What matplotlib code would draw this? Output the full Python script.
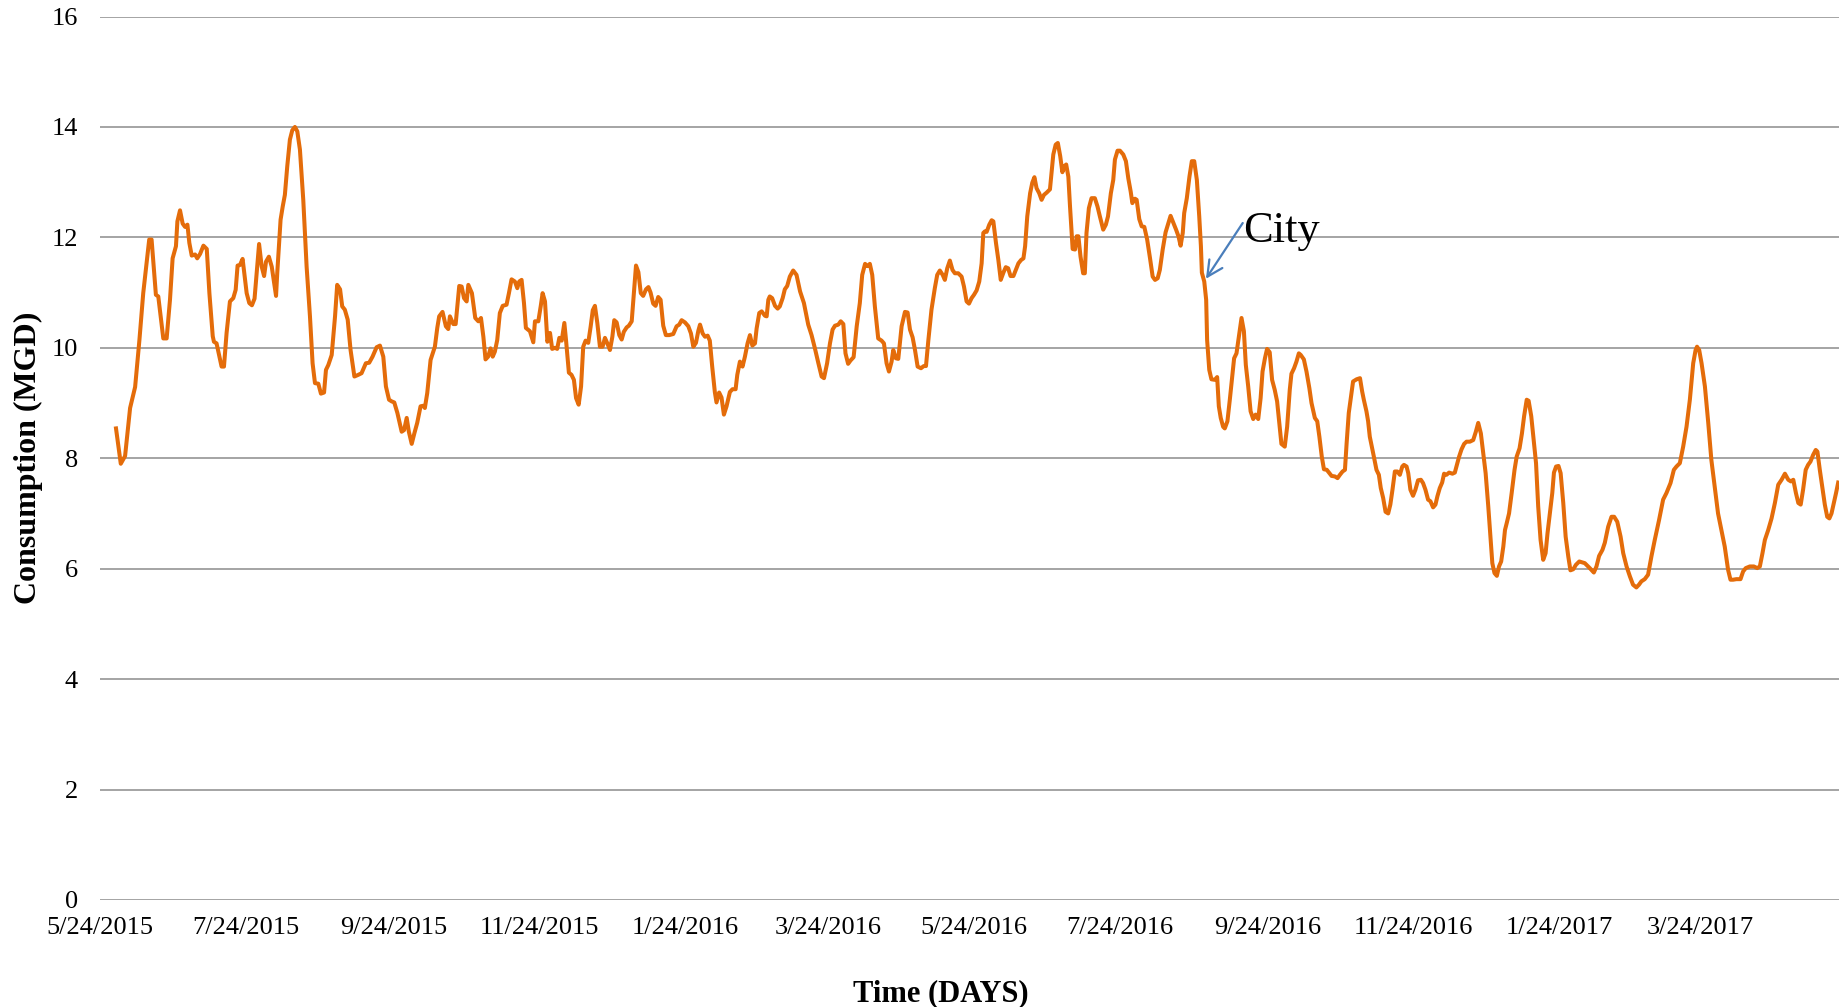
import matplotlib
matplotlib.use("Agg")
from matplotlib import pyplot as plt
import numpy as np
import pandas as pd

# daily consumption (days after 5/24/2015, MGD)
days = [
    6.7, 8.7, 10.5, 12.6, 14.7, 16.5, 18.1, 20.6, 21.6, 23.4,
    24.4, 26.5, 27.9, 29.3, 30.4, 31.8, 32.4, 33.5, 34.6, 35.6,
    36.6, 37.4, 38.4, 39.8, 40.7, 41.9, 43.3, 44.7, 45.8, 47.2,
    47.7, 48.8, 50.9, 51.9, 53.0, 54.4, 55.8, 56.8, 57.6, 58.6,
    59.7, 61.4, 62.5, 63.6, 64.7, 65.6, 66.6, 67.7, 68.7, 69.5,
    70.7, 71.9, 73.7, 74.2, 75.6, 76.5, 77.4, 78.4, 79.5, 80.5,
    81.6, 82.6, 83.7, 85.1, 86.5, 87.9, 89.0, 90.0, 91.4, 92.5,
    93.8, 94.6, 95.6, 97.0, 98.4, 99.3, 100.5, 101.4, 102.5, 103.7,
    104.9, 106.5, 108.1, 109.5, 111.3, 112.7, 114.1, 115.8, 117.2, 118.6,
    119.7, 121.0, 122.1, 123.2, 124.5, 126.3, 127.3, 128.4, 129.3, 130.5,
    131.6, 132.8, 134.2, 135.3, 136.0, 137.0, 138.4, 140.2, 141.2, 142.0,
    143.4, 144.8, 145.8, 146.5, 147.9, 148.9, 150.4, 151.4, 152.4, 153.5,
    154.2, 155.7, 157.1, 158.4, 159.5, 160.5, 161.4, 162.5, 163.5, 164.4,
    165.3, 166.3, 167.4, 168.6, 170.2, 171.2, 172.3, 173.7, 174.7, 175.5,
    176.5, 177.5, 178.3, 180.0, 181.4, 182.1, 183.5, 184.5, 185.3, 186.3,
    187.3, 188.4, 189.3, 190.5, 191.4, 192.3, 193.3, 194.4, 195.1, 196.3,
    197.4, 198.4, 199.3, 200.4, 201.4, 202.3, 203.3, 204.4, 205.4, 206.3,
    207.2, 208.2, 209.3, 210.4, 211.4, 212.4, 213.5, 214.5, 215.3, 216.3,
    217.4, 218.4, 219.3, 220.5, 221.4, 222.6, 223.5, 224.4, 225.4, 226.4,
    227.4, 228.6, 229.6, 230.5, 231.6, 232.6, 233.7, 234.7, 235.8, 236.9,
    238.3, 240.0, 241.4, 242.5, 243.5, 244.9, 246.3, 247.4, 248.4, 249.5,
    250.5, 251.2, 252.3, 253.3, 254.4, 255.3, 256.3, 257.4, 258.1, 259.2,
    260.2, 261.2, 262.3, 263.7, 264.8, 266.1, 266.8, 267.9, 269.0, 270.0,
    271.1, 272.1, 273.1, 274.2, 274.9, 276.0, 277.0, 278.4, 279.1, 279.8,
    280.4, 281.4, 282.6, 283.7, 284.6, 285.8, 286.7, 287.7, 288.8, 290.2,
    291.6, 293.1, 294.7, 296.5, 297.9, 299.3, 300.7, 302.1, 303.1,
    304.4, 305.6, 306.7, 307.7, 309.1, 310.1, 311.2, 312.1, 313.2, 314.2,
    315.5, 316.8, 318.1, 319.1, 320.3, 321.3, 322.3, 323.3, 324.4, 325.8,
    327.2, 328.2, 329.3, 330.3, 331.4, 332.1, 333.2, 334.2, 335.6, 337.0,
    338.1, 339.1, 340.2, 341.2, 342.3, 343.7, 344.9, 345.8, 346.8, 348.1,
    349.5, 350.5, 351.6, 352.8, 353.7, 354.7, 355.8, 356.9, 357.9, 359.3,
    360.7, 361.7, 362.8, 363.8, 364.9, 365.9, 367.0, 368.1, 369.1, 369.8,
    370.5, 371.2, 372.3, 373.3, 374.0, 375.1, 376.1, 377.1, 378.2, 379.2,
    380.2, 381.2, 382.4, 383.4, 384.5, 385.6, 386.6, 387.3, 388.2, 389.4,
    390.3, 391.2, 392.1, 393.2, 394.2, 395.2, 396.3, 397.7, 398.4, 399.1,
    400.1, 401.0, 402.0, 402.9, 403.8, 404.5, 405.4, 406.1, 407.2, 408.2,
    408.9, 409.6, 410.5, 411.6, 412.3, 413.0, 414.0, 415.1, 416.5, 417.6,
    418.6, 420.0, 421.1, 422.0, 423.2, 424.2, 424.9, 426.0, 427.0, 428.4,
    429.5, 430.5, 431.5, 432.2, 433.3, 434.0, 435.1, 436.1, 437.2, 438.4,
    439.6, 440.7, 441.7, 442.8, 443.7, 444.9, 446.1, 447.3, 448.2, 449.4,
    450.5, 451.5, 452.4, 453.3, 453.9, 455.0, 456.1, 457.1, 458.1, 459.2,
    460.2, 460.9, 461.3, 462.3, 463.1,
    463.5, 464.4, 465.3, 466.7, 467.7, 468.4, 469.2, 470.2, 470.9, 472.0,
    473.0, 474.0, 474.8, 475.8, 476.9, 477.9, 478.9, 479.7, 480.7, 481.7,
    482.8, 483.8, 484.9, 485.9, 486.7, 487.7, 488.6, 489.7, 490.7, 491.8,
    492.8, 493.9, 494.6, 496.0, 497.0, 498.1, 498.8, 499.9, 500.9, 501.9,
    502.7, 504.0, 505.1, 506.3, 507.2, 508.6, 509.6, 510.5, 511.5, 512.4,
    513.6, 514.7, 515.6, 517.0, 518.1, 519.1, 520.2, 521.2, 521.9, 522.8,
    524.0, 524.6, 526.1, 527.5, 528.4, 529.1, 530.2, 530.9, 531.6, 532.6,
    533.3, 534.4, 535.4, 536.2, 537.2, 538.2, 539.3, 540.2, 541.1, 542.1,
    543.1, 544.2, 545.2, 545.9, 547.0, 547.7, 548.6, 549.7, 550.7, 551.8,
    553.0, 553.9, 554.9, 556.0, 557.0, 558.1, 559.1, 559.9, 560.9, 561.9,
    562.7, 563.7, 564.8, 566.2, 567.2, 567.9, 569.0, 570.0, 571.1, 572.1,
    573.5, 574.9, 576.0, 577.0, 578.1, 579.1, 580.1, 581.2, 582.2, 582.9,
    583.8, 584.8, 585.7, 586.6, 587.5, 588.2, 588.9, 589.9, 591.0, 592.2,
    593.1, 594.3, 595.3, 596.2, 597.3, 598.1, 599.2, 600.2, 601.2, 602.1,
    603.1, 604.2, 605.2, 606.0, 607.0, 608.0, 608.7, 609.6, 610.6, 611.5,
    612.6, 613.6, 614.7, 615.6, 616.8, 617.9, 619.3,
    621.6, 623.7, 625.4, 626.5, 627.6, 629.0, 630.0, 631.4, 632.8, 633.9,
    635.2, 636.6, 637.7, 639.1, 640.5, 641.8, 643.2, 644.3, 645.3, 646.7,
    648.1, 649.5, 650.9, 652.7, 654.4, 655.8, 657.5, 658.9, 660.0, 661.4,
    662.8, 664.2, 665.6, 667.0, 668.0, 668.6, 669.5, 670.5, 671.9, 673.3,
    674.6, 676.0, 677.4, 678.8, 680.2, 681.6, 682.6, 683.7, 685.1, 686.8,
    687.9, 689.0, 690.7, 692.4, 693.8, 694.9, 696.0, 697.0, 698.4, 699.8,
    701.2, 702.6, 704.0, 705.4, 706.8, 707.9, 708.9, 710.0, 711.0, 712.0,
    713.0, 714.1, 715.1, 716.1, 717.2, 718.3, 719.0, 720.0, 721.0, 722.1,
    723.1, 724.0, 724.9, 725.9, 726.8, 727.7,
]
consumption = [
    8.54, 7.90, 8.04, 8.91, 9.29, 10.14, 10.99, 11.96, 11.96, 10.96,
    10.93, 10.17, 10.17, 10.87, 11.62, 11.84, 12.29, 12.49, 12.25, 12.19,
    12.23, 11.90, 11.67, 11.69, 11.62, 11.70, 11.85, 11.79, 10.99, 10.21,
    10.11, 10.08, 9.66, 9.66, 10.27, 10.84, 10.90, 11.05, 11.49, 11.50,
    11.61, 10.99, 10.81, 10.77, 10.89, 11.35, 11.88, 11.47, 11.30, 11.56,
    11.65, 11.47, 10.94, 11.35, 12.32, 12.56, 12.77, 13.29, 13.77, 13.94,
    14.00, 13.92, 13.59, 12.68, 11.47, 10.57, 9.72, 9.36, 9.35, 9.17,
    9.19, 9.60, 9.69, 9.87, 10.57, 11.14, 11.06, 10.75, 10.69, 10.51,
    9.96, 9.48, 9.51, 9.54, 9.72, 9.73, 9.84, 10.01, 10.04, 9.84,
    9.30, 9.06, 9.03, 9.01, 8.82, 8.48, 8.51, 8.73, 8.48, 8.26,
    8.45, 8.64, 8.94, 8.95, 8.91, 9.18, 9.78, 10.02, 10.36, 10.57,
    10.65, 10.39, 10.34, 10.57, 10.43, 10.43, 11.12, 11.11, 10.90, 10.84,
    11.14, 10.99, 10.54, 10.48, 10.54, 10.20, 9.79, 9.84, 9.99, 9.84,
    9.93, 10.14, 10.63, 10.76, 10.78, 10.99, 11.24, 11.20, 11.08, 11.20,
    11.23, 10.81, 10.36, 10.30, 10.10, 10.48, 10.48, 10.75, 10.99, 10.84,
    10.11, 10.27, 9.98, 10.00, 9.98, 10.18, 10.13, 10.45, 10.14, 9.55,
    9.51, 9.42, 9.09, 8.97, 9.30, 10.02, 10.13, 10.09, 10.38, 10.68,
    10.76, 10.45, 10.02, 10.02, 10.18, 10.08, 9.96, 10.20, 10.50, 10.46,
    10.23, 10.15, 10.29, 10.37, 10.40, 10.48, 10.99, 11.49, 11.37, 10.99,
    10.94, 11.06, 11.10, 11.00, 10.80, 10.76, 10.92, 10.87, 10.40, 10.23,
    10.23, 10.25, 10.39, 10.42, 10.50, 10.46, 10.39, 10.26, 10.02, 10.09,
    10.31, 10.42, 10.26, 10.20, 10.22, 10.13, 9.66, 9.20, 9.01, 9.19,
    9.10, 8.79, 8.94, 9.20, 9.25, 9.25, 9.51, 9.75, 9.66, 9.84,
    10.08, 10.23, 10.04, 10.08, 10.35, 10.63, 10.66, 10.58, 10.57, 10.87,
    10.93, 10.90, 10.76, 10.71, 10.75, 10.90, 11.06, 11.12, 11.29, 11.40,
    11.32, 11.02, 10.81, 10.42, 10.23, 9.99, 9.73, 9.48, 9.45,
    9.72, 10.08, 10.33, 10.40, 10.42, 10.48, 10.43, 9.90, 9.71, 9.77,
    9.83, 10.39, 10.81, 11.32, 11.52, 11.48, 11.52, 11.32, 10.75, 10.17,
    10.13, 10.08, 9.72, 9.57, 9.75, 9.96, 9.81, 9.80, 10.39, 10.65,
    10.64, 10.33, 10.19, 9.96, 9.66, 9.63, 9.67, 9.67, 10.14, 10.69,
    11.08, 11.32, 11.40, 11.32, 11.23, 11.44, 11.58, 11.41, 11.35, 11.35,
    11.29, 11.11, 10.84, 10.80, 10.90, 10.96, 11.04, 11.20, 11.53, 12.08,
    12.11, 12.10, 12.23, 12.31, 12.29, 11.90, 11.59, 11.23, 11.36, 11.46,
    11.44, 11.30, 11.30, 11.41, 11.53, 11.59, 11.62, 11.84, 12.38, 12.80,
    12.99, 13.09, 12.89, 12.80, 12.68, 12.77, 12.81, 12.87, 13.19, 13.50,
    13.68, 13.71, 13.47, 13.18, 13.29, 13.32, 13.10, 12.56, 11.79, 11.78,
    12.02, 12.02, 11.65, 11.35, 11.35, 12.08, 12.53, 12.71, 12.71, 12.56,
    12.38, 12.14, 12.23, 12.38, 12.80, 13.04, 13.41, 13.57, 13.57, 13.50,
    13.38, 13.07, 12.83, 12.62, 12.70, 12.68, 12.33, 12.20, 12.19, 11.96,
    11.62, 11.29, 11.23, 11.26, 11.41, 11.78, 12.09, 12.26, 12.39, 12.26,
    12.14, 12.02, 11.85, 12.08, 12.44, 12.71, 13.10, 13.38, 13.38, 13.04,
    12.38, 11.84, 11.36, 11.20, 10.87,
    10.14, 9.60, 9.43, 9.42, 9.47, 8.94, 8.73, 8.57, 8.54, 8.67,
    9.06, 9.48, 9.81, 9.90, 10.24, 10.54, 10.30, 9.69, 9.30, 8.85,
    8.71, 8.79, 8.71, 9.09, 9.57, 9.81, 9.98, 9.92, 9.42, 9.24,
    9.03, 8.57, 8.26, 8.21, 8.57, 9.24, 9.53, 9.63, 9.75, 9.90,
    9.87, 9.79, 9.57, 9.27, 9.00, 8.73, 8.67, 8.39, 8.03, 7.80,
    7.79, 7.73, 7.68, 7.67, 7.64, 7.70, 7.76, 7.79, 8.27, 8.82,
    9.21, 9.39, 9.43, 9.45, 9.21, 9.06, 8.85, 8.67, 8.39, 8.18,
    8.03, 7.79, 7.70, 7.46, 7.28, 7.03, 7.00, 7.16, 7.43, 7.76,
    7.76, 7.70, 7.85, 7.88, 7.85, 7.73, 7.43, 7.32, 7.43, 7.60,
    7.61, 7.55, 7.43, 7.25, 7.22, 7.11, 7.16, 7.31, 7.46, 7.56,
    7.72, 7.70, 7.74, 7.72, 7.74, 7.85, 8.03, 8.16, 8.26, 8.30,
    8.30, 8.33, 8.48, 8.64, 8.45, 8.09, 7.73, 7.13, 6.52, 6.10,
    5.92, 5.87, 6.04, 6.13, 6.40, 6.70, 6.82, 7.00, 7.37, 7.79,
    8.03, 8.18, 8.45, 8.76, 9.06, 9.04, 8.76, 8.33, 7.91, 7.13,
    6.52, 6.16, 6.28, 6.64, 7.00, 7.37, 7.74, 7.85, 7.86, 7.73,
    7.19, 6.58, 6.22, 5.97, 5.99, 6.07, 6.13,
    6.10, 6.01, 5.93, 6.04, 6.23, 6.34, 6.47, 6.76, 6.94, 6.94,
    6.85, 6.58, 6.28, 6.04, 5.86, 5.71, 5.66, 5.71, 5.77, 5.81,
    5.89, 6.22, 6.52, 6.88, 7.25, 7.37, 7.55, 7.79, 7.85, 7.91,
    8.21, 8.57, 9.06, 9.72, 9.96, 10.02, 9.96, 9.72, 9.30, 8.64,
    7.97, 7.49, 7.00, 6.70, 6.40, 5.98, 5.80, 5.80, 5.81, 5.81,
    5.95, 6.01, 6.04, 6.04, 6.01, 6.04, 6.28, 6.52, 6.70, 6.91,
    7.19, 7.52, 7.61, 7.72, 7.61, 7.58, 7.61, 7.37, 7.19, 7.16,
    7.43, 7.79, 7.88, 7.94, 8.06, 8.15, 8.12, 7.79, 7.49, 7.16,
    6.94, 6.91, 7.00, 7.19, 7.37, 7.56,
]
tick_labels = ["5/24/2015", "7/24/2015", "9/24/2015", "11/24/2015", "1/24/2016", "3/24/2016",
               "5/24/2016", "7/24/2016", "9/24/2016", "11/24/2016", "1/24/2017", "3/24/2017"]

assert len(days) == len(consumption), (len(days), len(consumption))

start = pd.Timestamp("2015-05-24")
dates = start + pd.to_timedelta(np.array(days), unit="D")
tick_dates = [pd.Timestamp(t) for t in tick_labels]

plt.rcParams["font.family"] = ["Liberation Serif", "DejaVu Serif"]

fig = plt.figure(figsize=(18.45, 10.07), dpi=100)
ax = fig.add_axes([0.0542, 0.1063, 0.9425, 0.8773])

ax.plot(dates, consumption, color="#E46C0A", linewidth=2.9, zorder=3,
        solid_joinstyle="round")

ax.set_ylim(0, 16)
ax.set_yticks(np.arange(0, 17, 2))
ax.set_xlim(start, start + pd.Timedelta(days=728))
ax.set_xticks(tick_dates)
ax.set_xticklabels(tick_labels)
ax.grid(axis="y", color="#8C8C8C", linewidth=1.1)
ax.set_axisbelow(True)
for s in ax.spines.values():
    s.set_visible(False)
ax.tick_params(axis="both", length=0)
ax.tick_params(axis="y", labelsize=19, pad=16)
ax.tick_params(axis="x", labelsize=19, pad=12)

ax.set_ylabel("Consumption (MGD)", fontsize=23, fontweight="bold")
ax.yaxis.set_label_coords(-0.033, 0.5)
fig.text(941 / 1845, 1 - 994 / 1007, "Time (DAYS)", fontsize=22, fontweight="bold",
         ha="center", va="center")

# "City" callout
tip = start + pd.Timedelta(days=463)
tail = start + pd.Timedelta(days=478.4)
ax.annotate("", xy=(tip, 11.25), xytext=(tail, 12.26),
            arrowprops=dict(arrowstyle="->", color="#4A7EBB", lw=1.6,
                            mutation_scale=28, shrinkA=0, shrinkB=0))
ax.text(tail, 11.92, "City", fontsize=32, ha="left", va="baseline")

fig.savefig("out.png", dpi=100)
